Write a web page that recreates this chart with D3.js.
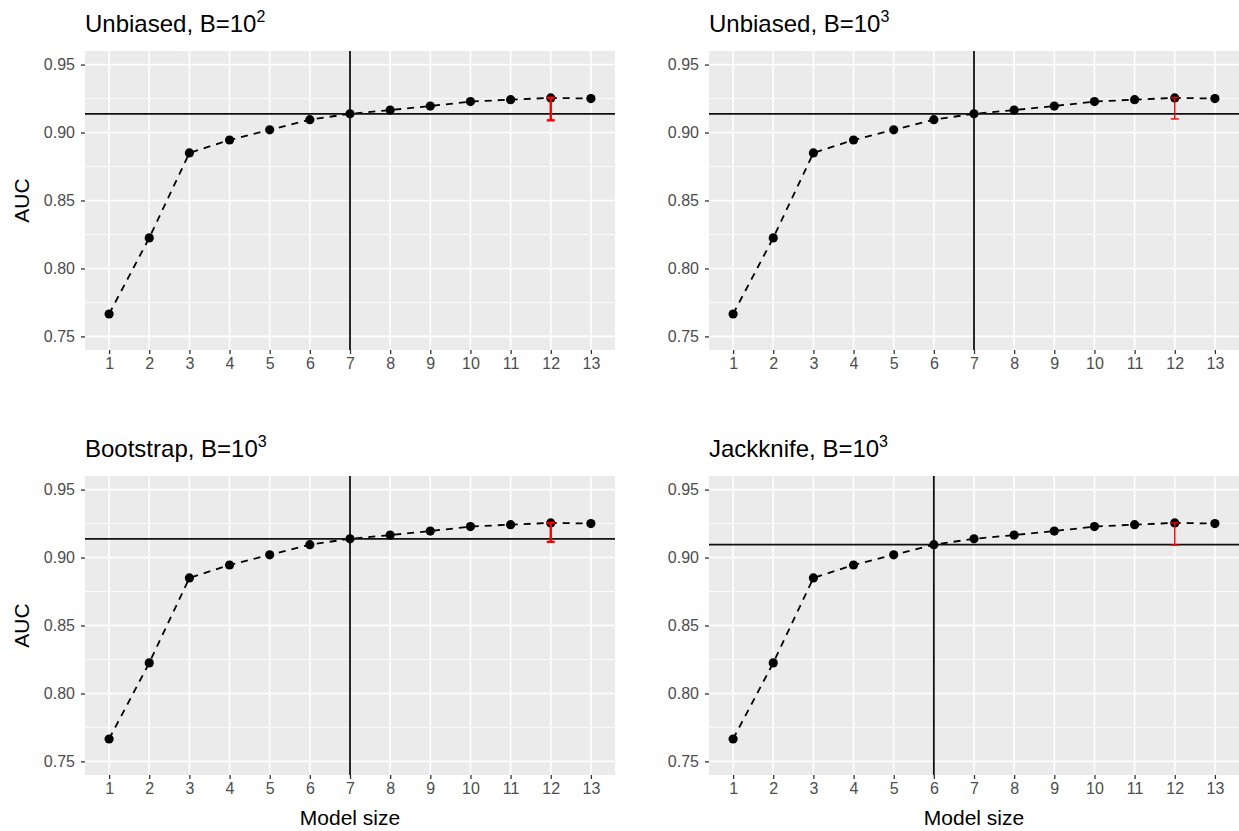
<!DOCTYPE html>
<html><head><meta charset="utf-8">
<script src="https://cdn.jsdelivr.net/npm/d3@7"></script>
<style>body{margin:0;background:#fff}svg{display:block;font-family:"Liberation Sans",Arial,sans-serif}</style>
</head><body>
<svg id="c" width="1239" height="831"></svg>
<script>
const modelSize = [1,2,3,4,5,6,7,8,9,10,11,12,13];
const auc = [0.7665,0.8225,0.885,0.8945,0.902,0.9095,0.9138,0.9165,0.9195,0.9228,0.9242,0.9255,0.9250];
const panelTitles = ["Unbiased, B=10","Unbiased, B=10","Bootstrap, B=10","Jackknife, B=10"];
const titleExps = ["2","3","3","3"];
const selectedSize = [7,7,7,6];
const errLower = [0.909,0.910,0.9115,0.9092];
const errUpper = [0.9255,0.9255,0.9255,0.9255];
const errAt = [12,12,12,12];
const yTicks = [0.75,0.80,0.85,0.90,0.95];
const yMinor = [0.775,0.825,0.875,0.925];

const svg = d3.select("#c");
const panels = [
  {l:85,r:615,t:51,b:350,ylab:true,xlab:false,ew:2.4},
  {l:709,r:1239,t:51,b:350,ylab:false,xlab:false,ew:1.4},
  {l:85,r:615,t:476,b:775,ylab:true,xlab:true,ew:2.4},
  {l:709,r:1239,t:476,b:775,ylab:false,xlab:true,ew:1.4}
];

panels.forEach((p,i)=>{
  const x = d3.scaleLinear().domain([0.4,13.6]).range([p.l,p.r]);
  const y = d3.scaleLinear().domain([0.74,0.96]).range([p.b,p.t]);
  const g = svg.append("g");
  g.append("rect").attr("x",p.l).attr("y",p.t).attr("width",p.r-p.l).attr("height",p.b-p.t).attr("fill","#EBEBEB");
  g.selectAll(".ymin").data(yMinor).join("line").attr("x1",p.l).attr("x2",p.r)
    .attr("y1",d=>y(d)).attr("y2",d=>y(d)).attr("stroke","#fff").attr("stroke-width",0.8);
  g.selectAll(".ymaj").data(yTicks).join("line").attr("x1",p.l).attr("x2",p.r)
    .attr("y1",d=>y(d)).attr("y2",d=>y(d)).attr("stroke","#fff").attr("stroke-width",1.6);
  g.selectAll(".xmaj").data(modelSize).join("line").attr("y1",p.t).attr("y2",p.b)
    .attr("x1",d=>x(d)).attr("x2",d=>x(d)).attr("stroke","#fff").attr("stroke-width",1.6);

  const ya = d3.axisLeft(y).tickValues(yTicks).tickFormat(d3.format(".2f")).tickSize(4).tickPadding(6);
  const yg = g.append("g").attr("transform",`translate(${p.l},0)`).call(ya);
  const xa = d3.axisBottom(x).tickValues(modelSize).tickFormat(d3.format("d")).tickSize(4).tickPadding(4);
  const xg = g.append("g").attr("transform",`translate(0,${p.b})`).call(xa);
  [yg,xg].forEach(a=>{
    a.select(".domain").remove();
    a.selectAll(".tick line").attr("stroke","#333").attr("stroke-width",1.3);
    a.selectAll(".tick text").attr("fill","#4D4D4D").style("font-size","16px").style("font-family","Liberation Sans, Arial, sans-serif");
  });

  const clipId = "clip"+i;
  svg.append("clipPath").attr("id",clipId).append("rect").attr("x",p.l).attr("y",p.t).attr("width",p.r-p.l).attr("height",p.b-p.t);
  const pts = modelSize.map((m,k)=>[m,auc[k]]);
  g.append("path").datum(pts).attr("d",d3.line().x(d=>x(d[0])).y(d=>y(d[1])))
    .attr("fill","none").attr("stroke","#000").attr("stroke-width",1.8).attr("stroke-dasharray","7,6");
  const sel = selectedSize[i];
  const hv = auc[modelSize.indexOf(sel)];
  const cg = g.append("g").attr("clip-path",`url(#${clipId})`);
  cg.append("line").attr("x1",p.l).attr("x2",p.r).attr("y1",y(hv)).attr("y2",y(hv)).attr("stroke","#111").attr("stroke-width",1.8);
  cg.append("line").attr("x1",x(sel)).attr("x2",x(sel)).attr("y1",p.t).attr("y2",p.b).attr("stroke","#111").attr("stroke-width",1.8);
  g.selectAll(".pt").data(pts).join("circle").attr("cx",d=>x(d[0])).attr("cy",d=>y(d[1])).attr("r",4.6).attr("fill","#000");
  const ex = x(errAt[i]);
  const eb = g.append("g").attr("stroke","#FF0000").attr("stroke-width",p.ew);
  eb.append("line").attr("x1",ex).attr("x2",ex).attr("y1",y(errLower[i])).attr("y2",y(errUpper[i]));
  eb.append("line").attr("x1",ex-4).attr("x2",ex+4).attr("y1",y(errLower[i])).attr("y2",y(errLower[i]));
  eb.append("line").attr("x1",ex-4).attr("x2",ex+4).attr("y1",y(errUpper[i])).attr("y2",y(errUpper[i]));

  const tt = svg.append("text").attr("x",p.l).attr("y",p.t-19).attr("fill","#000").style("font-size","24px");
  tt.append("tspan").text(panelTitles[i]);
  tt.append("tspan").attr("dy",-10).style("font-size","16px").text(titleExps[i]);

  if(p.ylab){
    svg.append("text").attr("transform",`translate(29,${(p.t+p.b)/2}) rotate(-90)`).attr("text-anchor","middle")
      .attr("fill","#000").style("font-size","21px").text("AUC");
  }
  if(p.xlab){
    svg.append("text").attr("x",(p.l+p.r)/2).attr("y",825).attr("text-anchor","middle")
      .attr("fill","#000").style("font-size","21px").text("Model size");
  }
});
</script>
</body></html>
